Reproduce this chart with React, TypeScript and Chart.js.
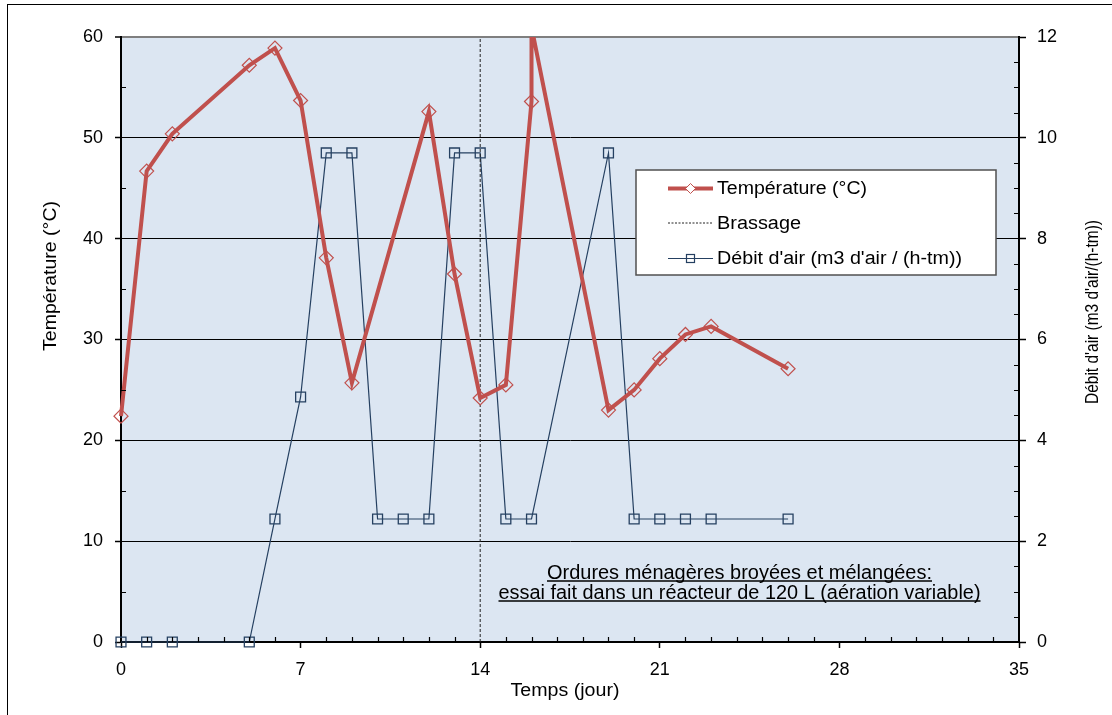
import { useEffect, useRef } from 'react';
import { Chart, registerables } from 'chart.js';

Chart.register(...registerables);

// ---- Data ----
const tempDays = [0, 1, 2, 5, 6, 7, 8, 9, 12, 13, 14, 15, 16, 16, 19, 20, 21, 22, 23, 26];
const tempValues = [22.4, 46.7, 50.4, 57.2, 58.9, 53.7, 38.1, 25.7, 52.6, 36.5, 24.2, 25.5, 53.6, 61, 23.0, 25.0, 28.1, 30.5, 31.3, 27.1];
const airDays = [0, 1, 2, 5, 6, 7, 8, 9, 10, 11, 12, 13, 14, 15, 16, 19, 20, 21, 22, 23, 26];
const airValues = [0, 0, 0, 0, 2.44, 4.86, 9.7, 9.7, 2.44, 2.44, 2.44, 9.7, 9.7, 2.44, 2.44, 9.7, 2.44, 2.44, 2.44, 2.44, 2.44];
const mixDays = [14, 14];
const mixValues = [0, 60];
const xTicks = [0, 7, 14, 21, 28, 35];
const yTempTicks = [0, 10, 20, 30, 40, 50, 60];
const yAirTicks = [0, 2, 4, 6, 8, 10, 12];
const seriesLabels = ['Température (°C)', 'Brassage', "Débit d'air (m3 d'air / (h-tm))"];
const xTitle = 'Temps (jour)';
const yTempTitle = 'Température (°C)';
const yAirTitle = "Débit d'air (m3 d'air/(h-tm))";
const noteLines = ['Ordures ménagères broyées et mélangées:', 'essai fait dans un réacteur de 120 L (aération variable)'];

const FONT = '"Liberation Sans", Arial, sans-serif';
const RED = '#C0504D';
const BLUE = '#254061';

function fitText(ctx: CanvasRenderingContext2D, text: string, x: number, y: number, width: number, size: number, align: CanvasTextAlign, rotation = 0) {
  ctx.save();
  ctx.font = `${size}px ${FONT}`;
  const w = ctx.measureText(text).width;
  ctx.translate(x, y);
  ctx.rotate(rotation);
  ctx.scale(width / w, 1);
  ctx.textAlign = align;
  ctx.textBaseline = 'alphabetic';
  ctx.fillStyle = '#000';
  ctx.fillText(text, 0, 0);
  ctx.restore();
}

const decorPlugin = {
  id: 'decor',
  beforeDraw(chart: any) {
    const { ctx, chartArea: a } = chart;
    ctx.save();
    ctx.fillStyle = '#fff';
    ctx.fillRect(0, 0, chart.width, chart.height);
    ctx.fillStyle = '#DCE6F2';
    ctx.fillRect(a.left, a.top, a.right - a.left, a.bottom - a.top);
    ctx.strokeStyle = '#000';
    ctx.lineWidth = 1;
    ctx.strokeRect(7.5, 4.5, 1300, 900);
    ctx.restore();
  },
  afterDraw(chart: any) {
    const { ctx, chartArea: a, scales } = chart;
    const x = scales.x, yT = scales.yT, yA = scales.yA;
    ctx.save();
    // minor ticks
    ctx.strokeStyle = '#000';
    ctx.lineWidth = 1.2;
    ctx.beginPath();
    for (let d = 1; d < 35; d++) {
      if (d % 7 === 0) continue;
      const px = Math.round(x.getPixelForValue(d)) + 0.5;
      ctx.moveTo(px, a.bottom);
      ctx.lineTo(px, a.bottom - 5);
    }
    for (let v = 5; v < 60; v += 10) {
      const py = Math.round(yT.getPixelForValue(v)) + 0.5;
      ctx.moveTo(a.left, py);
      ctx.lineTo(a.left + 5, py);
    }
    for (let v = 0.5; v < 12; v += 0.5) {
      if (v % 2 === 0) continue;
      const py = Math.round(yA.getPixelForValue(v)) + 0.5;
      ctx.moveTo(a.right - 5, py);
      ctx.lineTo(a.right, py);
    }
    ctx.stroke();

    // axis titles
    fitText(ctx, xTitle, 565, 696, 109, 18, 'center');
    fitText(ctx, yTempTitle, 56, 276, 150, 19, 'center', -Math.PI / 2);
    fitText(ctx, yAirTitle, 1098, 312, 184, 18.5, 'center', -Math.PI / 2);

    // note
    const noteCx = 739.5;
    const noteBase = [578.5, 598.5];
    const noteW = [385, 482];
    noteLines.forEach((t, i) => {
      fitText(ctx, t, noteCx, noteBase[i], noteW[i], 20, 'center');
      ctx.beginPath();
      ctx.strokeStyle = '#000';
      ctx.lineWidth = 1.5;
      ctx.moveTo(noteCx - noteW[i] / 2, noteBase[i] + 2.5);
      ctx.lineTo(noteCx + noteW[i] / 2, noteBase[i] + 2.5);
      ctx.stroke();
    });

    // legend
    const ds = chart.data.datasets;
    const lx = 636, ly = 170, lw = 360, lh = 105;
    ctx.fillStyle = '#fff';
    ctx.fillRect(lx, ly, lw, lh);
    ctx.strokeStyle = '#505050';
    ctx.lineWidth = 1.5;
    ctx.strokeRect(lx, ly, lw, lh);
    const rowY = [188.5, 223, 258.5];
    const textBase = [193.5, 228.5, 264];
    const textW = [150, 84, 245];
    ds.forEach((d: any, i: number) => {
      const yy = rowY[i];
      ctx.save();
      ctx.beginPath();
      ctx.strokeStyle = d.borderColor;
      ctx.lineWidth = d.borderWidth;
      if (d.borderDash) ctx.setLineDash(i === 1 ? [2, 1.5] : d.borderDash);
      ctx.moveTo(668, yy);
      ctx.lineTo(713, yy);
      ctx.stroke();
      ctx.setLineDash([]);
      if (d.pointStyle === 'rectRot') {
        ctx.beginPath();
        const r = 5;
        ctx.moveTo(690.5 - r, yy);
        ctx.lineTo(690.5, yy - r);
        ctx.lineTo(690.5 + r, yy);
        ctx.lineTo(690.5, yy + r);
        ctx.closePath();
        ctx.fillStyle = '#fff';
        ctx.fill();
        ctx.strokeStyle = d.pointBorderColor;
        ctx.lineWidth = 1;
        ctx.stroke();
      } else if (d.pointStyle === 'rect') {
        ctx.strokeStyle = d.pointBorderColor;
        ctx.lineWidth = 1.2;
        ctx.strokeRect(686.5, yy - 4, 8, 8);
      }
      ctx.restore();
      fitText(ctx, seriesLabels[i], 717, textBase[i], textW[i], 18, 'left');
    });
    ctx.restore();
  },
};

export default function App() {
  const ref = useRef<HTMLCanvasElement | null>(null);

  useEffect(() => {
    document.body.style.margin = '0';
    document.body.style.overflow = 'hidden';
    const canvas = ref.current;
    if (!canvas) return;
    const tickFont = { family: FONT, size: 18 };
    const chart = new Chart(canvas, {
      type: 'line',
      data: {
        datasets: [
          {
            label: seriesLabels[0],
            data: tempDays.map((d, i) => ({ x: d, y: tempValues[i] })),
            yAxisID: 'yT',
            borderColor: RED,
            borderWidth: 4,
            pointStyle: 'rectRot',
            pointRadius: 7,
            pointBorderColor: RED,
            pointBackgroundColor: 'rgba(0,0,0,0)',
            pointBorderWidth: 1.2,
            tension: 0,
            clip: { left: 15, right: 15, top: 0, bottom: 15 },
          } as any,
          {
            label: seriesLabels[1],
            data: mixDays.map((d, i) => ({ x: d, y: mixValues[i] })),
            yAxisID: 'yT',
            borderColor: '#222',
            borderWidth: 1,
            borderDash: [3, 2],
            pointRadius: 0,
            tension: 0,
          },
          {
            label: seriesLabels[2],
            data: airDays.map((d, i) => ({ x: d, y: airValues[i] })),
            yAxisID: 'yA',
            borderColor: BLUE,
            borderWidth: 1.2,
            pointStyle: 'rect',
            pointRadius: 7,
            pointBorderColor: BLUE,
            pointBackgroundColor: 'rgba(0,0,0,0)',
            pointBorderWidth: 1.3,
            tension: 0,
            clip: { left: 15, right: 15, top: 0, bottom: 15 },
          } as any,
        ],
      },
      options: {
        responsive: false,
        animation: false,
        devicePixelRatio: 1,
        events: [],
        layout: { padding: { top: 37, left: 0, right: 0, bottom: 0 } },
        plugins: { legend: { display: false }, tooltip: { enabled: false } },
        scales: {
          x: {
            type: 'linear',
            min: 0,
            max: 35,
            afterBuildTicks: (s: any) => { s.ticks = xTicks.map((v) => ({ value: v })); },
            afterFit: (s: any) => { s.height = 73; },
            ticks: { font: tickFont, color: '#000', padding: 11, maxRotation: 0, autoSkip: false },
            grid: { drawOnChartArea: false, drawTicks: true, tickLength: 6, tickColor: '#000', tickWidth: 1.5 },
            border: { color: '#000', width: 2 },
          },
          yT: {
            type: 'linear',
            position: 'left',
            min: 0,
            max: 60,
            afterBuildTicks: (s: any) => { s.ticks = yTempTicks.map((v) => ({ value: v })); },
            afterFit: (s: any) => { s.width = 121; },
            ticks: { font: tickFont, color: '#000', padding: 12 },
            grid: {
              color: (c: any) => (c.tick && c.tick.value === 60 ? '#7f7f7f' : '#000'),
              lineWidth: (c: any) => (c.tick && c.tick.value === 60 ? 2 : 1),
              drawTicks: true,
              tickLength: 6,
              tickColor: '#000',
              tickWidth: 1.5,
            },
            border: { color: '#000', width: 2 },
          },
          yA: {
            type: 'linear',
            position: 'right',
            min: 0,
            max: 12,
            afterBuildTicks: (s: any) => { s.ticks = yAirTicks.map((v) => ({ value: v })); },
            afterFit: (s: any) => { s.width = 93; },
            ticks: { font: tickFont, color: '#000', padding: 11 },
            grid: { drawOnChartArea: false, drawTicks: true, tickLength: 7, tickColor: '#000', tickWidth: 1.5 },
            border: { color: '#000', width: 2 },
          },
        },
      } as any,
      plugins: [decorPlugin],
    });
    return () => chart.destroy();
  }, []);

  return (
    <div style={{ position: 'fixed', left: 0, top: 0, width: 1112, height: 715 }}>
      <canvas ref={ref} width={1112} height={715} style={{ display: 'block' }} />
    </div>
  );
}
